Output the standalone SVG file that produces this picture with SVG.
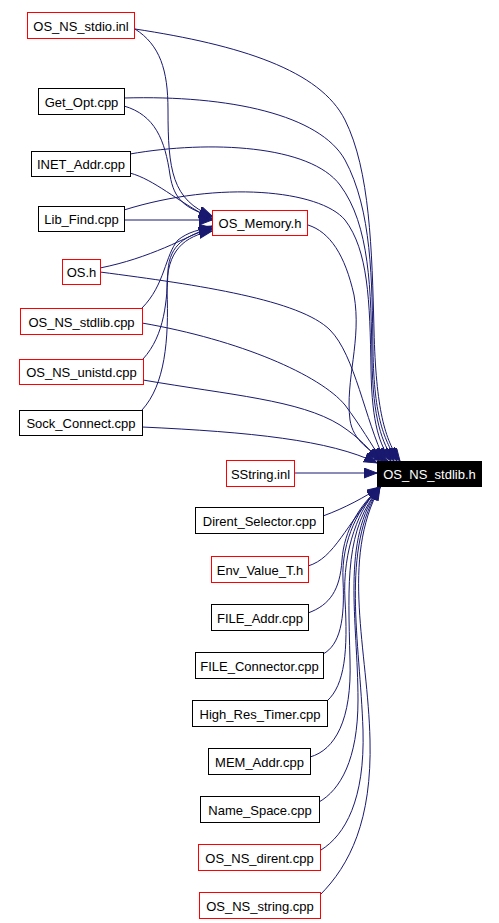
<svg xmlns="http://www.w3.org/2000/svg" width="499" height="923" viewBox="0 0 499 923">
<style>
.n rect{fill:#fff;stroke:#000;stroke-width:1}
.n.r rect{stroke:#ff0000}
.n text{font-family:"Liberation Sans",Arial,sans-serif;font-size:13px;fill:#000;text-anchor:middle}
.n.m rect{fill:#000;stroke:#000}
.n.m text{fill:#fff}
#edges path{fill:none;stroke:#191970;stroke-width:1;marker-end:url(#ah)}
</style>
<defs>
<marker id="ah" markerUnits="userSpaceOnUse" markerWidth="14" markerHeight="11" refX="13" refY="5" orient="auto">
<path d="M0,0 L13,5 L0,10 z" fill="#191970" stroke="#191970" stroke-width="1"/>
</marker>
</defs>
<rect width="499" height="923" fill="#fff"/>
<g id="edges">
<path d="M135,29 C160,45 168,70 168,110 C168,170 172,200 212,216"/>
<path d="M124,106 C155,115 165,140 170,175 C174,200 185,208 212,217"/>
<path d="M130,173 C155,180 175,200 212,219"/>
<path d="M124,220 L212,220"/>
<path d="M100,268 C150,258 185,238 212,226"/>
<path d="M142,308 C165,285 165,255 178,240 C188,232 200,229 212,228"/>
<path d="M143,359 C165,335 167,300 168,270 C170,245 185,235 212,229"/>
<path d="M142,410 C165,385 169,340 167,290 C166,250 185,236 212,231"/>
<path d="M135,29 C240,45 320,70 345,120 C370,170 372,250 374,330 C376,410 385,440 400,461"/>
<path d="M124,98 C230,95 320,115 345,160 C372,210 372,280 373,350 C374,420 385,440 397,461"/>
<path d="M130,154 C210,140 310,145 340,185 C370,225 371,290 372,360 C373,420 382,442 394,461"/>
<path d="M124,210 C220,180 320,190 345,220 C368,250 370,300 371,370 C372,425 380,445 391,461"/>
<path d="M308,225 C330,232 345,255 354,295 C362,340 345,380 350,420 C353,440 370,452 388,461"/>
<path d="M100,272 C200,285 300,300 330,330 C355,355 365,420 385,461"/>
<path d="M142,323 C240,340 320,375 345,405 C360,425 372,445 382,461"/>
<path d="M143,380 C230,395 300,400 340,425 C360,438 370,450 379,461"/>
<path d="M142,427 C250,432 330,440 377,463"/>
<path d="M294,473 L377,473"/>
<path d="M323,516 C345,508 365,497 380,487"/>
<path d="M308,566 C335,558 345,525 380,487"/>
<path d="M308,613 C330,605 340,590 342,560 C344,530 360,505 380,487"/>
<path d="M323,654 C340,645 345,620 343,580 C341,540 360,505 380,487"/>
<path d="M327,701 C345,685 348,650 345,600 C342,550 360,505 380,487"/>
<path d="M310,757 C335,750 352,720 350,660 C348,580 345,530 380,487"/>
<path d="M319,802 C340,790 358,760 358,700 C358,620 340,540 380,487"/>
<path d="M321,850 C345,835 365,800 363,730 C360,640 340,550 380,487"/>
<path d="M320,895 C350,865 372,820 370,740 C368,650 340,560 380,487"/>
</g>
<g id="n1" class="n r"><rect x="27.5" y="12.5" width="107" height="26"/><text x="81" y="30.5">OS_NS_stdio.inl</text></g>
<g id="n2" class="n"><rect x="38.5" y="88.5" width="86" height="26"/><text x="81.5" y="106.5">Get_Opt.cpp</text></g>
<g id="n3" class="n"><rect x="31.5" y="151.5" width="99" height="25"/><text x="81" y="169">INET_Addr.cpp</text></g>
<g id="n4" class="n"><rect x="38.5" y="206.5" width="86" height="25"/><text x="81.5" y="224">Lib_Find.cpp</text></g>
<g id="n5" class="n r"><rect x="62.5" y="259.5" width="38" height="25"/><text x="81.5" y="277">OS.h</text></g>
<g id="n6" class="n r"><rect x="20.5" y="308.5" width="122" height="26"/><text x="81.5" y="326.5">OS_NS_stdlib.cpp</text></g>
<g id="n7" class="n r"><rect x="19.5" y="359.5" width="124" height="25"/><text x="81.5" y="377">OS_NS_unistd.cpp</text></g>
<g id="n8" class="n"><rect x="19.5" y="410.5" width="123" height="25"/><text x="81" y="428">Sock_Connect.cpp</text></g>
<g id="n9" class="n r"><rect x="212.5" y="210.5" width="95" height="25"/><text x="260" y="228">OS_Memory.h</text></g>
<g id="n10" class="n r"><rect x="226.5" y="460.5" width="68" height="26"/><text x="260.5" y="478.5">SString.inl</text></g>
<g id="n11" class="n"><rect x="195.5" y="507.5" width="128" height="26"/><text x="259.5" y="525.5">Dirent_Selector.cpp</text></g>
<g id="n12" class="n r"><rect x="211.5" y="556.5" width="97" height="26"/><text x="260" y="574.5">Env_Value_T.h</text></g>
<g id="n13" class="n"><rect x="211.5" y="604.5" width="97" height="26"/><text x="260" y="622.5">FILE_Addr.cpp</text></g>
<g id="n14" class="n"><rect x="195.5" y="652.5" width="128" height="26"/><text x="259.5" y="670.5">FILE_Connector.cpp</text></g>
<g id="n15" class="n"><rect x="192.5" y="700.5" width="135" height="26"/><text x="260" y="718.5">High_Res_Timer.cpp</text></g>
<g id="n16" class="n"><rect x="208.5" y="748.5" width="102" height="26"/><text x="259.5" y="766.5">MEM_Addr.cpp</text></g>
<g id="n17" class="n"><rect x="200.5" y="796.5" width="119" height="26"/><text x="260" y="814.5">Name_Space.cpp</text></g>
<g id="n18" class="n r"><rect x="198.5" y="844.5" width="122" height="26"/><text x="259.5" y="862.5">OS_NS_dirent.cpp</text></g>
<g id="n19" class="n r"><rect x="199.5" y="892.5" width="121" height="26"/><text x="260" y="910.5">OS_NS_string.cpp</text></g>
<g id="n20" class="n m"><rect x="377.5" y="461.5" width="104" height="25"/><text x="429.5" y="479">OS_NS_stdlib.h</text></g>
</svg>
